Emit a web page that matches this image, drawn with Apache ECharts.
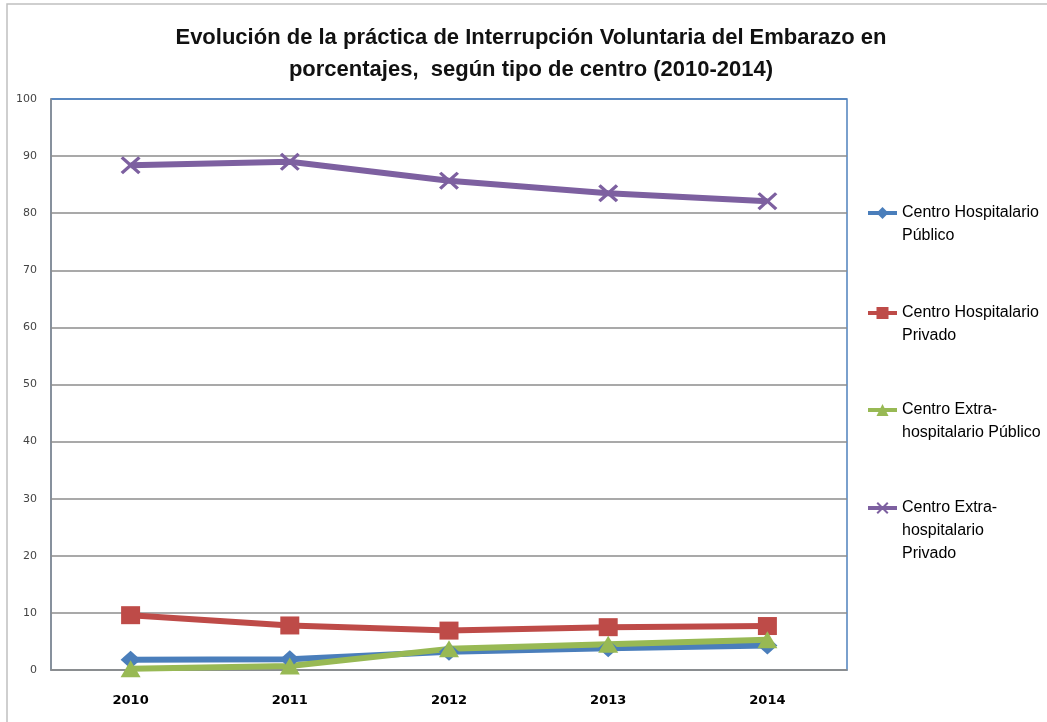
<!DOCTYPE html>
<html>
<head>
<meta charset="utf-8">
<script src="https://cdn.jsdelivr.net/npm/echarts@6/dist/echarts.min.js"></script>
<style>
html, body { margin: 0; padding: 0; background: #fff; }
#chart { width: 1047px; height: 722px; }
</style>
</head>
<body>
<div id="chart"></div>
<script>
// data (percent)
const years = ["2010", "2011", "2012", "2013", "2014"];
const hospPublico = [1.8, 1.9, 3.2, 3.8, 4.3];
const hospPrivado = [9.6, 7.8, 6.9, 7.5, 7.7];
const extraPublico = [0.2, 0.7, 3.7, 4.5, 5.3];
const extraPrivado = [88.4, 89.0, 85.7, 83.5, 82.1];

const seriesNames = [
  "Centro Hospitalario Público",
  "Centro Hospitalario Privado",
  "Centro Extra-hospitalario Público",
  "Centro Extra-hospitalario Privado"
];
// how the legend wraps each name
const legendLines = [
  ["Centro Hospitalario", "Público"],
  ["Centro Hospitalario", "Privado"],
  ["Centro Extra-", "hospitalario Público"],
  ["Centro Extra-", "hospitalario", "Privado"]
];
const colors = ["#4a7ebb", "#be4b48", "#98b954", "#7d60a0"];

const xMark = "path://M0,1.2 L1.2,0 L5,3.8 L8.8,0 L10,1.2 L6.2,5 L10,8.8 L8.8,10 L5,6.2 L1.2,10 L0,8.8 L3.8,5 Z";

const chart = echarts.init(document.getElementById("chart"));

const lineH = 23;
const legendCenters = [213, 313, 410, 508];

function makeLegend(i) {
  var n = legendLines[i].length;
  var half = ((2 * n - 1) * lineH) / 2;
  // empty lines above so the first line sits level with the icon
  var txt = new Array(n).join("\n") + legendLines[i].join("\n");
  return {
    orient: "vertical",
    left: 866,
    top: legendCenters[i] - half,
    padding: 0,
    itemWidth: 29,
    itemHeight: 15,
    data: [seriesNames[i]],
    formatter: function () {
      return txt;
    },
    lineStyle: { width: 4 },
    textStyle: {
      fontFamily: "Liberation Sans Narrow, Arial Narrow, sans-serif",
      fontSize: 16,
      color: "#000",
      lineHeight: lineH
    }
  };
}

function makeSeries(i, data, symbol, size) {
  return {
    name: seriesNames[i],
    type: "line",
    data: data,
    symbol: symbol,
    symbolSize: size,
    showAllSymbol: true,
    lineStyle: { width: 6, color: colors[i] },
    itemStyle: { color: colors[i] },
    emphasis: { disabled: true }
  };
}

// split lines gray, the one at 100 takes the blue frame colour
const splitColors = [];
for (let k = 0; k < 11; k++) splitColors.push(k === 10 ? "#4f81bd" : "#8c8c8c");

const option = {
  animation: false,
  backgroundColor: "#fff",
  title: {
    text: "Evolución de la práctica de Interrupción Voluntaria del Embarazo en\nporcentajes,  según tipo de centro (2010-2014)",
    left: 526,
    textAlign: "center",
    top: 17,
    textStyle: {
      fontFamily: "Liberation Sans Narrow, Arial Narrow, sans-serif",
      fontWeight: "bold",
      fontSize: 22,
      lineHeight: 32,
      color: "#111"
    }
  },
  graphic: [
    {
      type: "rect",
      shape: { x: 7, y: 4, width: 1200, height: 900 },
      style: { fill: "none", stroke: "#c0c0c0", lineWidth: 1.5 },
      silent: true
    }
  ],
  legend: [0, 1, 2, 3].map(makeLegend),
  grid: {
    left: 51,
    right: 200,
    top: 99,
    bottom: 52,
    show: true,
    borderColor: "#4f81bd",
    borderWidth: 1.5
  },
  xAxis: {
    type: "category",
    data: years,
    boundaryGap: true,
    axisLine: { lineStyle: { color: "#8c8c8c", width: 1.5 } },
    axisTick: { show: false },
    axisLabel: {
      margin: 24,
      fontFamily: "DejaVu Sans, sans-serif",
      fontWeight: "bold",
      fontSize: 13,
      color: "#000"
    }
  },
  yAxis: {
    type: "value",
    min: 0,
    max: 100,
    interval: 10,
    axisLine: { show: true, lineStyle: { color: "#8c8c8c", width: 1.5 } },
    axisTick: { show: false },
    splitLine: { lineStyle: { color: splitColors, width: 1.5 } },
    axisLabel: {
      margin: 14,
      fontFamily: "DejaVu Sans, sans-serif",
      fontSize: 11,
      color: "#444"
    }
  },
  series: [
    makeSeries(0, hospPublico, "diamond", [20, 18]),
    makeSeries(1, hospPrivado, "rect", [19, 18]),
    makeSeries(2, extraPublico, "triangle", [20, 17]),
    makeSeries(3, extraPrivado, xMark, [20, 18])
  ]
};

chart.setOption(option);
</script>
</body>
</html>
